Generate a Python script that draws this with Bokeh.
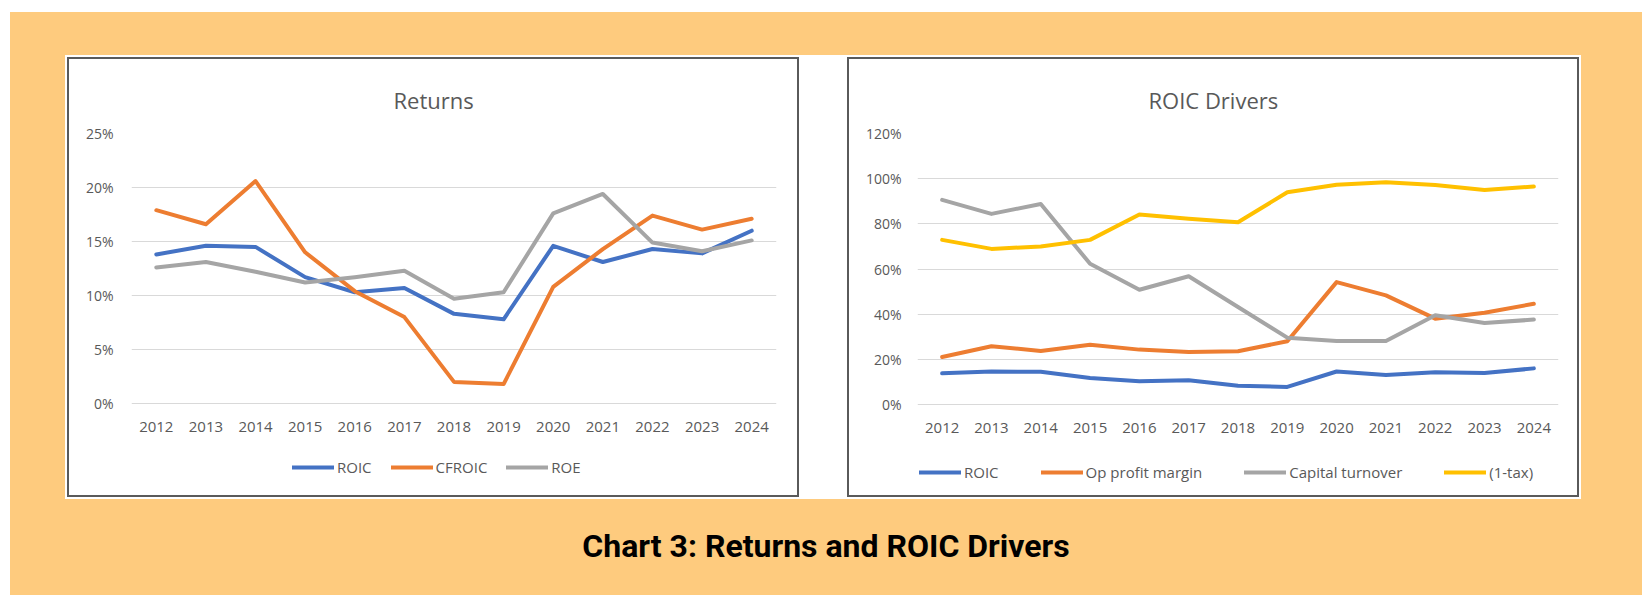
from bokeh.plotting import figure
from bokeh.models import (Range1d, FixedTicker, PrintfTickFormatter, Legend, LegendItem, Div)
from bokeh.layouts import row, column
from bokeh.embed import file_html
from bokeh.resources import INLINE

# ---------------- data ----------------
years = ["2012", "2013", "2014", "2015", "2016", "2017", "2018",
         "2019", "2020", "2021", "2022", "2023", "2024"]

# Returns (%)
roic = [13.8, 14.6, 14.5, 11.7, 10.3, 10.7, 8.3, 7.8, 14.6, 13.1, 14.3, 13.9, 16.0]
cfroic = [17.9, 16.6, 20.6, 14.0, 10.4, 8.0, 2.0, 1.8, 10.8, 14.3, 17.4, 16.1, 17.1]
roe = [12.6, 13.1, 12.2, 11.2, 11.7, 12.3, 9.7, 10.3, 17.6, 19.4, 14.9, 14.1, 15.1]

# ROIC drivers (%)
op_profit_margin = [21.0, 25.8, 23.7, 26.5, 24.3, 23.3, 23.6, 28.0, 54.2, 48.3, 38.0, 40.6, 44.6]
capital_turnover = [90.6, 84.4, 88.8, 62.3, 50.8, 56.8, 43.2, 29.6, 28.1, 28.1, 39.5, 36.1, 37.6]
one_minus_tax = [72.9, 68.9, 70.0, 72.9, 84.1, 82.2, 80.7, 94.0, 97.3, 98.4, 97.2, 95.0, 96.5]

returns_title = "Returns"
drivers_title = "ROIC Drivers"
caption = "Chart 3: Returns and ROIC Drivers"

# ---------------- styling ----------------
BLUE, ORANGE, GREY, GOLD = "#4472C4", "#ED7D31", "#A5A5A5", "#FFC000"
TXT = "#595959"
FONT = "Open Sans"
BG = "#FECB7E"

FIG_W, FIG_H = 728, 436
TOP_B, BOTTOM_B = 74, 10


def make_chart(title, series, ymax, ystep, plot_px, left_b, right_b, title_offset,
               legend_loc, legend_spacing, y_standoff, shadow):
    frame_px = FIG_H - TOP_B - BOTTOM_B
    # the area below 0% holds the category labels and the legend
    ymin = -ymax * (frame_px - plot_px) / plot_px
    p = figure(x_range=years, y_range=Range1d(ymin, ymax), width=FIG_W, height=FIG_H,
               output_backend="svg", toolbar_location=None,
               min_border_left=left_b, min_border_right=right_b,
               min_border_top=TOP_B, min_border_bottom=BOTTOM_B,
               background_fill_color="white", border_fill_color="white",
               styles={"box-shadow": shadow, "background-color": "white"})
    p.outline_line_color = None
    p.title.text = title
    p.title.align = "left"
    p.title.offset = title_offset
    p.title.standoff = 38
    p.title.text_font = FONT
    p.title.text_font_size = "22px"
    p.title.text_font_style = "normal"
    p.title.text_color = TXT

    for ax in (p.xaxis[0], p.yaxis[0]):
        ax.axis_line_color = None
        ax.major_tick_line_color = None
        ax.minor_tick_line_color = None
        ax.major_tick_out = 0
        ax.major_tick_in = 0
        ax.minor_tick_out = 0
        ax.minor_tick_in = 0
        ax.major_label_text_font = FONT
        ax.major_label_text_color = TXT
    p.xaxis.fixed_location = 0
    p.xaxis.major_label_text_font_size = "15px"
    p.xaxis.major_label_standoff = 18
    p.yaxis.major_label_text_font_size = "14px"
    p.yaxis.major_label_standoff = y_standoff
    ticker = FixedTicker(ticks=list(range(0, ymax + 1, ystep)))
    p.yaxis.ticker = ticker
    p.ygrid.ticker = ticker
    p.yaxis.formatter = PrintfTickFormatter(format="%d%%")
    p.xgrid.grid_line_color = None
    p.ygrid.grid_line_color = "#D9D9D9"
    p.ygrid.grid_line_width = 1

    items = []
    for label, vals, color in series:
        r = p.line(years, vals, line_color=color, line_width=4,
                   line_join="round", line_cap="round")
        items.append(LegendItem(label=label, renderers=[r]))

    legend = Legend(items=items, orientation="horizontal", location=legend_loc,
                    label_text_font=FONT, label_text_font_size="15px",
                    label_text_color=TXT, glyph_width=42, glyph_height=20,
                    label_height=20, label_standoff=3, spacing=legend_spacing,
                    padding=0, margin=0, border_line_color=None,
                    background_fill_alpha=0)
    p.add_layout(legend, "center")
    return p


left = make_chart(returns_title,
                  [("ROIC", roic, BLUE), ("CFROIC", cfroic, ORANGE), ("ROE", roe, GREY)],
                  25, 5, 270, 62, 21, 262, (161, 8), 19, 18,
                  "0 0 0 2px #5a5a5a, 0 0 0 4px #ffffff, 26px 0 0 4px #ffffff")
left.margin = (47, 0, 0, 59)

right = make_chart(drivers_title,
                   [("ROIC", roic, BLUE), ("Op profit margin", op_profit_margin, ORANGE),
                    ("Capital turnover", capital_turnover, GREY), ("(1-tax)", one_minus_tax, GOLD)],
                   120, 20, 271, 68, 19, 231, (2, 3), 42, 16,
                   "0 0 0 2px #5a5a5a, 0 0 0 4px #ffffff, -26px 0 0 4px #ffffff")
right.margin = (47, 0, 0, 52)

cap = Div(text=caption, width=1632, height=36, margin=(33, 0, 31, 0),
          styles={"font-family": "Roboto", "font-weight": "bold", "font-size": "32px",
                  "line-height": "36px", "text-align": "center", "color": "#000000"})

root = column(row(left, right), cap, margin=(12, 0, 0, 10),
              styles={"background-color": BG})

open("out.html", "w").write(file_html(root, INLINE))
